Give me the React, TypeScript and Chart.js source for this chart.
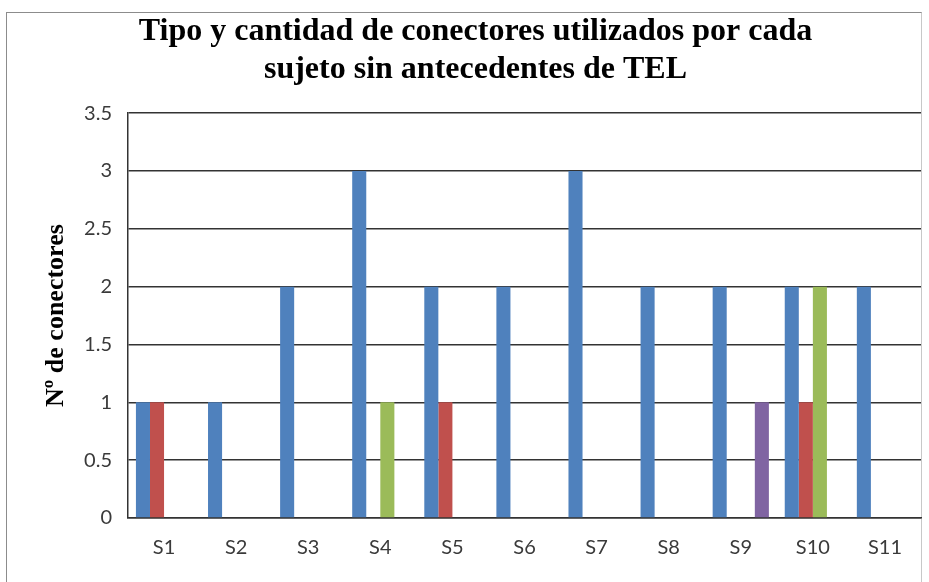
import React, { useEffect, useRef } from "react";
import { Chart, registerables } from "chart.js";

Chart.register(...registerables);

const categories = ["S1", "S2", "S3", "S4", "S5", "S6", "S7", "S8", "S9", "S10", "S11"];
const serieAzul = [1, 1, 2, 3, 2, 2, 3, 2, 2, 2, 2];
const serieRoja = [1, 0, 0, 0, 1, 0, 0, 0, 0, 1, 0];
const serieVerde = [0, 0, 0, 1, 0, 0, 0, 0, 0, 2, 0];
const serieMorada = [0, 0, 0, 0, 0, 0, 0, 0, 1, 0, 0];
const seriesNames = ["Serie 1", "Serie 2", "Serie 3", "Serie 4"];
const titleLines = ["Tipo y cantidad de conectores utilizados por cada", "sujeto sin antecedentes de TEL"];
const yAxisTitle = "Nº de conectores";
const yMin = 0;
const yMax = 3.5;
const yStep = 0.5;

export default function App() {
  const ref = useRef<HTMLCanvasElement>(null);

  useEffect(() => {
    if (!ref.current) return;
    const chart = new Chart(ref.current, {
      type: "bar",
      data: {
        labels: categories,
        datasets: [
          { label: seriesNames[0], data: serieAzul, backgroundColor: "#4F81BD" },
          { label: seriesNames[1], data: serieRoja, backgroundColor: "#C0504D" },
          { label: seriesNames[2], data: serieVerde, backgroundColor: "#9BBB59" },
          { label: seriesNames[3], data: serieMorada, backgroundColor: "#8064A2" },
        ],
      },
      options: {
        responsive: false,
        animation: false,
        devicePixelRatio: 1,
        layout: { padding: { left: 30, right: 8, top: 0, bottom: 0 } },
        datasets: {
          bar: { categoryPercentage: 0.78, barPercentage: 1.0, borderWidth: 0 },
        },
        plugins: {
          legend: { display: false },
          tooltip: { enabled: false },
          title: {
            display: true,
            text: titleLines,
            color: "#000",
            font: { family: "'Liberation Serif', 'Times New Roman', serif", size: 32, weight: "bold", lineHeight: 1.19 },
            padding: { top: 13, bottom: 24 },
          },
        },
        scales: {
          x: {
            grid: { display: false, drawTicks: false },
            border: { display: true, color: "#333", width: 1.5 },
            ticks: {
              color: "#3a3a3a",
              padding: 18,
              font: { family: "Lato, 'Open Sans', sans-serif", size: 20 },
            },
            afterFit: (s: any) => {
              s.height = 64;
            },
          },
          y: {
            min: yMin,
            max: yMax,
            grid: { color: "#333", lineWidth: 1.5, drawTicks: false },
            border: { display: true, color: "#333", width: 1.5 },
            ticks: {
              stepSize: yStep,
              color: "#3a3a3a",
              padding: 16,
              font: { family: "Lato, 'Open Sans', sans-serif", size: 20 },
              callback: (v: any) => String(Number(v)),
            },
            title: {
              display: true,
              text: yAxisTitle,
              color: "#000",
              font: { family: "'Liberation Serif', 'Times New Roman', serif", size: 26, weight: "bold", lineHeight: 1.2 },
              padding: { top: 11, bottom: 0 },
            },
            afterFit: (s: any) => {
              s.width = 98;
            },
          },
        },
      },
    });
    return () => chart.destroy();
  }, []);

  return (
    <div
      style={{
        position: "fixed",
        left: 0,
        top: 0,
        width: 929,
        height: 582,
        overflow: "hidden",
        background: "#fff",
      }}
    >
      <div
        style={{
          position: "absolute",
          left: 6,
          top: 12,
          width: 914,
          height: 620,
          borderLeft: "1px solid #8c8c8c",
          borderTop: "1px solid #8c8c8c",
          borderRight: "1px solid #c8c8c8",
        }}
      />
      <canvas ref={ref} width={929} height={582} style={{ position: "absolute", left: 0, top: 0 }} />
    </div>
  );
}
